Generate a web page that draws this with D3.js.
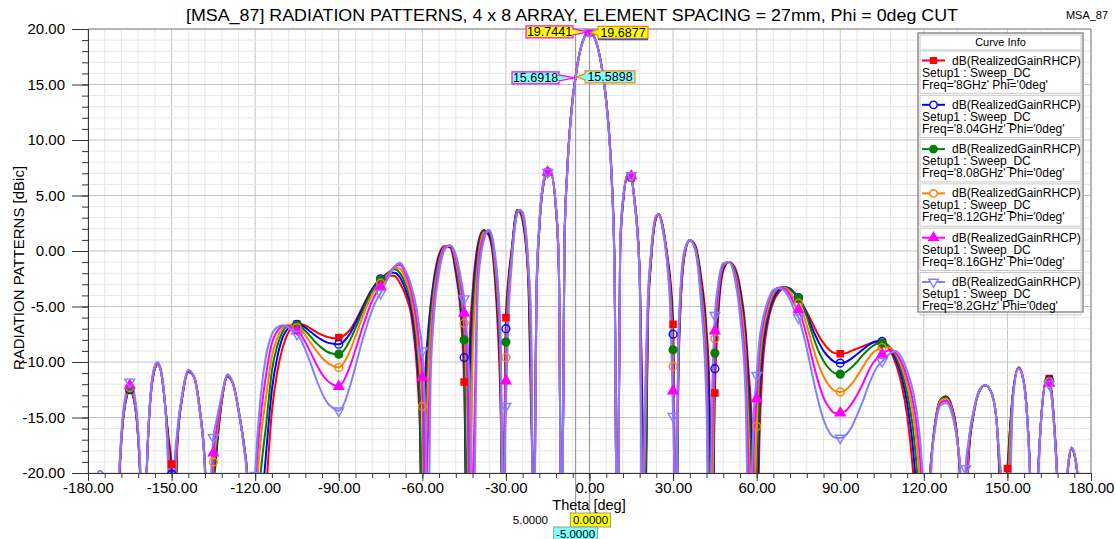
<!DOCTYPE html>
<html>
<head>
<meta charset="utf-8">
<script src="https://cdn.jsdelivr.net/npm/d3@7"></script>
<style>
  body { margin: 0; background: #fff; }
  text { font-family: "Liberation Sans", Arial, sans-serif; fill: #000; }
</style>
</head>
<body>
<div id="chart"></div>
<script>
// SVG area
var svgWidth = 1115;
var svgHeight = 539;

// plot area edges (px)
var plot = { left: 88, right: 1091, top: 29, bottom: 473 };

// theta grid [deg], read along the x axis
var theta = [
  -180, -178, -176, -174, -172, -170, -169, -168, -166, -165, -164, -162, -161, -160,
  -159, -158, -156, -155, -154, -152, -151, -150, -149, -148,
  -146, -144, -142, -140, -138, -137, -136, -135, -134, -132, -130,
  -128, -126, -124, -123, -122, -121, -120, -118, -116,
  -114, -112, -110, -108, -106, -105, -104, -102, -100, -98, -96, -94, -92,
  -90, -88, -86, -84, -82, -80, -78, -76, -75, -74, -72, -70,
  -68, -66, -64, -62, -61, -60, -59, -58, -57, -56,
  -54, -52, -50, -48, -46, -45, -44, -43, -42, -40,
  -38, -36, -34, -32, -31, -30, -29, -28,
  -26, -25, -24, -22, -21, -20,
  -19, -18, -16, -15, -14, -12, -11,
  -10, -9, -8, -7, -6, -5, -4, -3, -2, -1, 0,
  1, 2, 3, 4, 5, 6, 7, 8, 9, 10,
  11, 12, 14, 15, 16, 18,
  19, 20, 21, 22, 24, 25, 26, 28, 29, 30, 31,
  32, 34, 36, 38, 40, 42, 43, 44, 45, 46,
  48, 50, 52, 54, 56, 57, 58, 59, 60, 61, 62,
  64, 66, 68, 70, 72, 74, 75, 76, 78, 80,
  82, 84, 86, 88, 90, 92, 94, 96, 98, 100,
  102, 104, 105, 106, 108, 110, 112, 114, 116,
  117, 118, 119, 120, 121, 122, 123, 124, 126, 128, 130, 132, 133,
  134, 135, 136, 138, 140, 142, 144, 146, 147, 148, 149, 150,
  152, 154, 156, 157, 158, 159, 160, 161, 162, 164, 165, 166, 167,
  168, 169, 170, 171, 172, 173, 174, 175, 176, 178, 180
];

// dB(RealizedGainRHCP) per frequency
var gain8GHz = [
  -24, -22.5, -20.8, -21.4, -25, -33, -22, -17, -13, -12.5, -12.9, -16.8, -22, -33,
  -20.5, -14.8, -10.6, -10.2, -10.6, -14.6, -17, -19.2, -30, -17.8,
  -12.9, -10.9, -11.3, -14, -19.5, -25, -32, -22, -18.6, -13.6, -11.3,
  -11.9, -14.3, -17.5, -19.6, -23, -25, -27, -31, -21.5,
  -14.5, -10.8, -8.6, -7.3, -6.75, -6.6, -6.55, -6.7, -7, -7.3, -7.55, -7.75, -7.85,
  -7.8, -7.6, -7.1, -6.3, -5.3, -4.3, -3.4, -2.8, -2.55, -2.4, -2.2, -2.25,
  -2.9, -4, -5.8, -10.5, -15, -24, -11.5, -7.5, -4.8, -2.8,
  -0.3, 0.45, 0.3, -2, -6.5, -11.8, -24, -8, -3.8, 0.7,
  1.9, 1.3, -2.4, -13, -24, -6, -2.2, 0,
  3.7, 3.5, 2.7, -2.5, -14, -22,
  -4, 2, 6.6, 7.1, 7.1, 3.6, -1.8,
  -30, 0.8, 7.3, 11.2, 13.9, 15.69, 17.3, 18.4, 19.15, 19.55, 19.69,
  19.55, 19.1, 18.3, 17.15, 15.6, 13.6, 10.8, 6.6, -1.5, -30,
  0, 4.2, 7, 6.6, 5, -1.8,
  -14, -25, -6, -1.3, 3, 3.3, 2.6, -0.5, -2.5, -6.6, -28,
  -10, -0.6, 1, 0.5, -2.2, -7, -12, -28, -12.8, -6.8,
  -1.8, -1, -1.4, -3.2, -7, -10.5, -14, -20, -30, -17, -11,
  -6.5, -4.6, -3.7, -3.3, -3.4, -3.95, -4.3, -4.65, -5.5, -6.5,
  -7.5, -8.3, -8.9, -9.2, -9.25, -9.2, -9, -8.8, -8.6, -8.4,
  -8.25, -8.2, -8.25, -8.35, -9, -10.2, -12, -14.8, -19.5,
  -23, -30, -26, -23, -22, -21, -17.8, -15.6, -13.4, -13.1, -14, -16.8, -20.5,
  -26, -30, -19, -14.5, -12.6, -12.1, -12.6, -15, -19.5, -30, -24, -19.6,
  -12.8, -10.5, -12, -14.5, -19, -27, -26, -20, -15.5, -11.6, -11.5, -13, -16.3,
  -21, -28, -27, -22, -19, -17.8, -18.3, -19.8, -23, -26, -24
];

var gain804GHz = [
  -24, -22.5, -20.7, -21.3, -25, -33, -22, -17, -13, -12.5, -12.9, -16.8, -22, -33,
  -20.5, -14.8, -10.6, -10.2, -10.6, -14.7, -17.5, -20.1, -27, -17.5,
  -12.9, -10.9, -11.3, -14, -19.5, -26, -29, -21, -18.2, -13.5, -11.3,
  -11.9, -14.3, -17.5, -19.6, -24, -27, -30, -24, -18,
  -12.5, -9.5, -7.7, -6.9, -6.6, -6.6, -6.65, -6.9, -7.3, -7.7, -8, -8.25, -8.35,
  -8.4, -8.1, -7.45, -6.5, -5.45, -4.4, -3.45, -2.75, -2.5, -2.3, -1.95, -1.95,
  -2.4, -3.5, -5.2, -9.3, -13.5, -30, -13.5, -8, -5.1, -3,
  -0.5, 0.4, 0.4, -1.6, -5.6, -9.6, -30, -11, -5, 0.3,
  1.85, 1.5, -1.9, -11.5, -28, -7, -2.6, -0.2,
  3.65, 3.6, 2.9, -2.2, -12, -24,
  -3.8, 2.1, 6.65, 7.1, 7.1, 3.7, -1.6,
  -30, 0.7, 7.25, 11.15, 13.85, 15.67, 17.28, 18.4, 19.15, 19.56, 19.7,
  19.56, 19.1, 18.3, 17.15, 15.58, 13.55, 10.75, 6.5, -1.7, -30,
  0.1, 4.3, 7, 6.65, 4.95, -1.9,
  -16, -22, -5.6, -1.1, 3.05, 3.3, 2.55, -0.7, -2.9, -7.5, -30,
  -9.3, -0.5, 1, 0.4, -2.6, -8, -14, -30, -10.6, -5.8,
  -1.6, -1, -1.5, -3.5, -7.6, -11.5, -16, -24, -24, -14, -9.5,
  -6, -4.3, -3.5, -3.25, -3.4, -3.9, -4.2, -4.55, -5.7, -7,
  -8.1, -9, -9.6, -10, -10.1, -10, -9.7, -9.3, -8.9, -8.5,
  -8.2, -8.1, -8.15, -8.25, -8.8, -9.8, -11.3, -13.7, -17.5,
  -20.5, -25, -30, -24, -22, -20.5, -17.8, -15.6, -13.4, -13.1, -14, -16.8, -20.3,
  -27, -28, -18.6, -14.5, -12.6, -12.1, -12.6, -15, -19.2, -26, -27, -20.5,
  -12.8, -10.5, -12, -14.5, -19, -27, -26, -20, -15.5, -11.6, -11.6, -13.1, -16.4,
  -21, -28, -27, -22, -19, -17.8, -18.3, -19.8, -23, -26, -24
];

var gain808GHz = [
  -24, -22.3, -20.6, -21.2, -25, -33, -21.8, -16.9, -12.9, -12.4, -12.8, -16.7, -22, -33,
  -20.4, -14.7, -10.5, -10.2, -10.6, -14.8, -18, -22, -24, -17.2,
  -12.8, -10.85, -11.3, -14.1, -19.6, -27, -26, -20.5, -17.8, -13.4, -11.3,
  -11.9, -14.3, -17.5, -19.7, -25, -29, -27, -20, -15.5,
  -10.8, -8.5, -7.2, -6.7, -6.65, -6.7, -6.8, -7.2, -7.75, -8.3, -8.75, -9.1, -9.25,
  -9.3, -8.9, -8.05, -6.95, -5.75, -4.6, -3.6, -2.9, -2.6, -2.35, -1.9, -1.65,
  -2, -3, -4.7, -8.3, -12, -24, -17, -9.5, -6, -3.6,
  -0.8, 0.4, 0.45, -1.2, -4.9, -8, -22, -22, -7, -0.3,
  1.8, 1.65, -1.4, -10, -30, -8.2, -3.1, -0.4,
  3.6, 3.65, 3.1, -1.9, -10, -26,
  -3.6, 2.2, 6.7, 7.1, 7.1, 3.8, -1.5,
  -30, 0.6, 7.2, 11.1, 13.8, 15.65, 17.26, 18.4, 19.16, 19.57, 19.71,
  19.57, 19.1, 18.3, 17.13, 15.56, 13.5, 10.7, 6.4, -1.9, -30,
  0.2, 4.4, 7, 6.7, 4.9, -2,
  -21, -21, -5.2, -0.9, 3.1, 3.3, 2.5, -0.9, -3.4, -8.9, -28,
  -8.7, -0.4, 1, 0.3, -3, -9, -20.5, -24, -9.2, -5,
  -1.4, -1, -1.6, -3.9, -8.4, -13, -19, -30, -21, -12, -8.5,
  -5.6, -4, -3.35, -3.25, -3.5, -3.95, -4.25, -4.6, -5.9, -7.5,
  -8.9, -9.9, -10.6, -11, -11.1, -10.9, -10.5, -10, -9.4, -8.9,
  -8.5, -8.3, -8.3, -8.35, -8.7, -9.5, -10.8, -12.8, -15.8,
  -18.2, -21.5, -27, -28, -23, -20.5, -17.8, -15.6, -13.4, -13.15, -14.1, -16.9, -20,
  -28, -26, -18.3, -14.5, -12.6, -12.1, -12.6, -15, -18.9, -24, -30, -21.5,
  -12.9, -10.5, -12, -14.5, -19.2, -27, -26, -20, -15.5, -11.65, -11.7, -13.2, -16.5,
  -21, -28, -27, -22, -19, -17.8, -18.3, -19.8, -23, -26, -24
];

var gain812GHz = [
  -24, -22.2, -20.5, -21, -25, -32, -21.6, -16.8, -12.8, -12.3, -12.7, -16.6, -21.8, -33,
  -20.4, -14.7, -10.5, -10.2, -10.6, -14.9, -18.8, -24, -22, -17,
  -12.8, -10.8, -11.3, -14.1, -19.7, -29, -24, -19, -17, -13.3, -11.2,
  -11.9, -14.3, -17.6, -19.8, -26, -31, -24, -17, -13,
  -9.5, -7.8, -6.9, -6.65, -6.8, -6.9, -7, -7.6, -8.3, -9, -9.6, -10.1, -10.35,
  -10.5, -10, -9, -7.7, -6.3, -5, -3.95, -3.15, -2.9, -2.6, -2, -1.5,
  -1.6, -2.6, -4.2, -7.4, -10.3, -14, -26, -12, -7.5, -4.3,
  -1.1, 0.4, 0.5, -0.9, -4, -6.5, -13, -26, -10, -1,
  1.6, 1.8, -0.9, -9, -26, -9.6, -3.7, -0.7,
  3.5, 3.7, 3.25, -1.6, -8.5, -28,
  -3.4, 2.3, 6.7, 7.1, 7.1, 3.8, -1.4,
  -30, 0.5, 7.15, 11.05, 13.75, 15.63, 17.25, 18.4, 19.17, 19.58, 19.72,
  19.58, 19.12, 18.3, 17.12, 15.54, 13.45, 10.65, 6.3, -2.1, -30,
  0.3, 4.5, 7, 6.7, 4.85, -2.1,
  -22, -16, -4.8, -0.7, 3.15, 3.3, 2.45, -1.1, -3.9, -10.4, -25,
  -8.2, -0.3, 1, 0.2, -3.5, -10.5, -23, -22, -7.9, -4.5,
  -1.3, -1, -1.8, -4.4, -9.5, -15.5, -24, -23, -15.8, -10.2, -7.7,
  -5.2, -3.8, -3.3, -3.3, -3.7, -4.5, -4.7, -5.2, -6.7, -8.5,
  -10.1, -11.3, -12.1, -12.6, -12.7, -12.5, -12, -11.3, -10.5, -9.7,
  -9.1, -8.8, -8.7, -8.65, -8.75, -9.3, -10.4, -12, -14.5,
  -16.3, -19, -23, -30, -25, -21, -17.9, -15.7, -13.5, -13.3, -14.2, -17, -19.8,
  -30, -24, -18, -14.4, -12.6, -12.1, -12.6, -15, -18.6, -22.5, -30, -23,
  -13, -10.5, -12, -14.6, -19.4, -28, -25, -20.1, -15.6, -11.7, -11.8, -13.3, -16.6,
  -21.2, -28.5, -26.5, -21.8, -18.9, -17.75, -18.25, -19.75, -23, -26, -24
];

var gain816GHz = [
  -24, -22, -20.3, -20.8, -24.6, -31, -21.3, -16.6, -12.6, -12.1, -12.5, -16.4, -21.5, -33,
  -20.3, -14.6, -10.4, -10.1, -10.6, -15, -19.8, -27, -20.5, -16.7,
  -12.7, -10.8, -11.3, -14.2, -19.8, -31, -23, -18.2, -16.3, -13.2, -11.2,
  -11.9, -14.3, -17.7, -20, -28, -30, -22, -15, -11,
  -8.3, -7.2, -6.75, -6.75, -7.05, -7.2, -7.4, -8.2, -9.2, -10.2, -11.1, -11.7, -12.05,
  -12.2, -11.6, -10.4, -8.9, -7.3, -5.8, -4.5, -3.55, -3.2, -2.85, -2.1, -1.4,
  -1.25, -2.1, -3.6, -6.4, -8.7, -11.4, -24, -17, -9.5, -5.3,
  -1.5, 0.3, 0.5, -0.6, -3.4, -5.6, -10, -22, -21, -1.8,
  1.3, 1.9, -0.5, -8, -23, -11.7, -4.5, -1,
  3.4, 3.7, 3.4, -1.3, -7, -30,
  -3.2, 2.4, 6.8, 7.1, 7.05, 3.9, -1.3,
  -30, 0.4, 7.1, 11, 13.7, 15.61, 17.23, 18.4, 19.17, 19.59, 19.73,
  19.59, 19.12, 18.3, 17.1, 15.52, 13.4, 10.6, 6.2, -2.3, -30,
  0.4, 4.6, 7, 6.75, 4.8, -2.2,
  -26, -14, -4.4, -0.5, 3.2, 3.3, 2.4, -1.3, -4.6, -12.6, -22,
  -7.6, -0.2, 1, 0.1, -4, -12, -26, -17, -7.2, -4,
  -1.2, -1, -2, -5, -11, -19, -30, -17.5, -13.3, -9, -7,
  -4.8, -3.6, -3.3, -3.4, -4, -5, -5.3, -5.9, -7.7, -9.8,
  -11.7, -13.2, -14.1, -14.6, -14.6, -14.4, -13.8, -13, -12, -10.9,
  -10, -9.5, -9.3, -9.1, -8.95, -9.2, -10, -11.4, -13.4,
  -14.9, -17, -20, -26, -30, -22, -18, -15.8, -13.7, -13.5, -14.4, -17.1, -19.5,
  -30, -22, -17.6, -14.3, -12.5, -12.1, -12.6, -15, -18.3, -21.5, -27, -26,
  -13.1, -10.55, -12, -14.7, -19.6, -29, -24, -20.2, -15.6, -11.75, -11.9, -13.4, -16.7,
  -21.3, -28.8, -26.3, -21.6, -18.85, -17.7, -18.2, -19.7, -23, -26, -24
];

var gain82GHz = [
  -23.5, -21.5, -19.8, -20.2, -24, -30, -21, -16.4, -12.3, -11.8, -12.2, -16.1, -21, -33,
  -20.2, -14.5, -10.3, -10, -10.6, -15.2, -21.5, -32, -19.5, -16.3,
  -12.6, -10.7, -11.3, -14.3, -20, -33, -21.5, -16.8, -15.4, -13, -11.1,
  -11.9, -14.3, -17.8, -20.3, -30, -27, -20.2, -13, -9.3,
  -7.5, -6.85, -6.7, -6.9, -7.3, -7.5, -7.8, -8.9, -10.2, -11.6, -12.8, -13.7, -14.15,
  -14.4, -13.7, -12.2, -10.4, -8.5, -6.8, -5.3, -4.2, -3.8, -3.3, -2.3, -1.4,
  -1.05, -1.8, -3.1, -5.3, -7, -9, -14.5, -28, -11.5, -6.5,
  -2, 0.1, 0.5, -0.3, -2.7, -4.3, -7.5, -13, -30, -3,
  0.9, 1.9, -0.1, -7, -24, -14, -5.5, -1.4,
  3.3, 3.7, 3.5, -1, -6, -32,
  -3, 2.5, 6.8, 7.1, 7, 4, -1.2,
  -30, 0.3, 7, 10.9, 13.65, 15.59, 17.22, 18.4, 19.18, 19.6, 19.74,
  19.6, 19.13, 18.3, 17.1, 15.5, 13.35, 10.5, 6.1, -2.5, -30,
  0.5, 4.7, 7, 6.8, 4.7, -2.4,
  -30, -12.5, -4, -0.3, 3.25, 3.3, 2.3, -1.5, -5.4, -14.9, -23,
  -7, 0, 1, 0, -4.6, -14, -30, -13, -5.8, -3.3,
  -1.1, -1, -2.3, -5.8, -13, -24, -22, -14.5, -11.2, -8, -6.4,
  -4.5, -3.5, -3.35, -3.6, -4.4, -5.6, -6, -6.8, -8.8, -11.2,
  -13.4, -15.2, -16.3, -16.8, -16.85, -16.6, -15.9, -14.8, -13.6, -12.2,
  -11, -10.2, -9.95, -9.7, -9.2, -9, -9.6, -10.8, -12.5,
  -13.8, -15.5, -18, -22.5, -30, -24, -18.3, -16.1, -13.9, -13.7, -14.6, -17.2, -19.5,
  -30, -19.6, -17.2, -14.2, -12.5, -12.1, -12.6, -15, -18, -21, -25, -30,
  -13.3, -10.6, -12.1, -14.8, -19.8, -30, -23, -20.3, -15.7, -11.8, -12, -13.5, -16.8,
  -21.5, -29, -26, -21.5, -18.8, -17.7, -18.2, -19.7, -23, -26, -24
];

var seriesFreqs = ["8GHz", "8.04GHz", "8.08GHz", "8.12GHz", "8.16GHz", "8.2GHz"];
var seriesValues = [gain8GHz, gain804GHz, gain808GHz, gain812GHz, gain816GHz, gain82GHz];

// axis ticks
var xTickValues = d3.range(-180, 181, 30);
var xMinorValues = d3.range(-180, 181, 6);
var yTickValues = d3.range(-20, 21, 5);
var yMinorValues = d3.range(-20, 21, 1);

// marker readouts (m1 at 0 deg, m2 at -5 deg)
var markerThetas = [0, -5];
var markerLeftValues = ["19.7441", "15.6918"];
var markerRightValues = ["19.6877", "15.5898"];

// styles
var seriesColors = ["#ff0000", "#0000ff", "#008000", "#ff8000", "#ff00ff", "#8080ff"];
var seriesSymbols = [d3.symbolSquare, d3.symbolCircle, d3.symbolCircle, d3.symbolCircle, d3.symbolTriangle, d3.symbolTriangle];
var seriesFilled = [true, false, true, false, true, false];
var seriesRotate = [0, 0, 0, 0, 0, 180];
var seriesSymbolSize = [38, 48, 48, 48, 42, 42];

var svg = d3.select("#chart")
  .append("svg")
  .attr("width", svgWidth)
  .attr("height", svgHeight);

var xScale = d3.scaleLinear().domain([-180, 180]).range([plot.left, plot.right]);
var yScale = d3.scaleLinear().domain([-20, 20]).range([plot.bottom, plot.top]);

// grid lines
var gridGroup = svg.append("g");
gridGroup.selectAll(".vgrid")
  .data(xMinorValues)
  .enter()
  .append("line")
  .attr("x1", d => xScale(d)).attr("x2", d => xScale(d))
  .attr("y1", plot.top).attr("y2", plot.bottom)
  .attr("stroke", d => d % 30 === 0 ? "#c4c4c4" : "#e6e6e6")
  .attr("stroke-width", 1);
gridGroup.selectAll(".hgrid")
  .data(yMinorValues)
  .enter()
  .append("line")
  .attr("x1", plot.left).attr("x2", plot.right)
  .attr("y1", d => yScale(d)).attr("y2", d => yScale(d))
  .attr("stroke", d => d % 5 === 0 ? "#c4c4c4" : "#e6e6e6")
  .attr("stroke-width", 1);

// plot frame (top, right)
svg.append("line")
  .attr("x1", plot.left).attr("x2", plot.right)
  .attr("y1", plot.top).attr("y2", plot.top)
  .attr("stroke", "#8a8a8a");
svg.append("line")
  .attr("x1", plot.right).attr("x2", plot.right)
  .attr("y1", plot.top).attr("y2", plot.bottom)
  .attr("stroke", "#8a8a8a");

// marker lines
svg.selectAll(".mline")
  .data(markerThetas)
  .enter()
  .append("line")
  .attr("x1", d => xScale(d)).attr("x2", d => xScale(d))
  .attr("y1", plot.top)
  .attr("y2", (d, i) => i === 0 ? 528 : 539)
  .attr("stroke", "#9a9a9a")
  .attr("stroke-width", 1.2);

// axes
function styleAxis(g) {
  g.select(".domain").attr("stroke", "#333");
  g.selectAll(".tick line").attr("stroke", "#333");
  g.selectAll(".tick text").style("font-size", "15px").attr("fill", "#111");
}

var bottomMinor = d3.axisBottom(xScale).tickValues(xMinorValues).tickSize(5).tickSizeOuter(0).tickFormat("");
var bottomAxis = d3.axisBottom(xScale).tickValues(xTickValues).tickSize(8).tickSizeOuter(0).tickPadding(1)
  .tickFormat(d => d.toFixed(2));
svg.append("g").attr("transform", `translate(0, ${plot.bottom})`).call(bottomMinor).call(styleAxis);
svg.append("g").attr("transform", `translate(0, ${plot.bottom})`).call(bottomAxis).call(styleAxis);

var leftMinor = d3.axisLeft(yScale).tickValues(yMinorValues).tickSize(6).tickSizeOuter(0).tickFormat("");
var leftAxis = d3.axisLeft(yScale).tickValues(yTickValues).tickSize(16).tickSizeOuter(0).tickPadding(7)
  .tickFormat(d => d.toFixed(2));
svg.append("g").attr("transform", `translate(${plot.left}, 0)`).call(leftMinor).call(styleAxis);
svg.append("g").attr("transform", `translate(${plot.left}, 0)`).call(leftAxis).call(styleAxis);

// axis titles
svg.append("text")
  .attr("x", 589).attr("y", 510)
  .attr("text-anchor", "middle")
  .style("font-size", "14.5px")
  .text("Theta [deg]");
svg.append("text")
  .attr("transform", "translate(24, 268) rotate(-90)")
  .attr("text-anchor", "middle")
  .style("font-size", "15px")
  .text("RADIATION PATTERNS [dBic]");

// title
svg.append("text")
  .attr("x", 572).attr("y", 21)
  .attr("text-anchor", "middle")
  .attr("textLength", 772)
  .attr("lengthAdjust", "spacingAndGlyphs")
  .style("font-size", "17px")
  .text("[MSA_87] RADIATION PATTERNS, 4 x 8 ARRAY, ELEMENT SPACING = 27mm, Phi = 0deg CUT");
svg.append("text")
  .attr("x", 1087).attr("y", 19)
  .attr("text-anchor", "middle")
  .style("font-size", "11px")
  .text("MSA_87");

// curves
svg.append("clipPath").attr("id", "plotClip")
  .append("rect")
  .attr("x", plot.left).attr("y", plot.top)
  .attr("width", plot.right - plot.left).attr("height", plot.bottom - plot.top);

var curveGroup = svg.append("g").attr("clip-path", "url(#plotClip)");
var n = theta.length;

var lineGen = d3.line()
  .x((d, i) => xScale(theta[i]))
  .y(d => yScale(d))
  .curve(d3.curveMonotoneX);

function symbolPath(k, scale) {
  return d3.symbol().type(seriesSymbols[k]).size(seriesSymbolSize[k] * scale)();
}

seriesValues.forEach(function (vals, k) {
  curveGroup.append("path")
    .datum(vals.slice(0, n))
    .attr("d", lineGen)
    .attr("fill", "none")
    .attr("stroke", seriesColors[k])
    .attr("stroke-width", 2);
});

seriesValues.forEach(function (vals, k) {
  var pts = theta.map((t, i) => ({ t: t, v: vals[i] }))
    .filter(p => p.t % 15 === 0 && p.v !== undefined && p.v > -21);
  curveGroup.selectAll(".sym" + k)
    .data(pts)
    .enter()
    .append("path")
    .attr("d", symbolPath(k, 1))
    .attr("transform", p => `translate(${xScale(p.t)}, ${yScale(p.v)}) rotate(${seriesRotate[k]})`)
    .attr("fill", seriesFilled[k] ? seriesColors[k] : "none")
    .attr("stroke", seriesColors[k])
    .attr("stroke-width", 1.4);
});

// marker callouts
function callout(x0, x1, yc, tipX, tipY, fill, stroke, label) {
  var h = 12;
  var y0 = yc - h / 2, y1 = yc + h / 2;
  var pts;
  if (tipX > x1) {
    pts = [[x0, y0], [x1, y0], [x1, yc - 3], [tipX, tipY], [x1, yc + 3], [x1, y1], [x0, y1]];
  } else {
    pts = [[x0, y0], [x1, y0], [x1, y1], [x0, y1], [x0, yc + 3], [tipX, tipY], [x0, yc - 3]];
  }
  svg.append("polygon")
    .attr("points", pts.map(p => p.join(",")).join(" "))
    .attr("fill", fill)
    .attr("stroke", stroke)
    .attr("stroke-width", 1.2);
  svg.append("text")
    .attr("x", (x0 + x1) / 2).attr("y", yc + 4.5)
    .attr("text-anchor", "middle")
    .style("font-size", "12.5px")
    .text(label);
}

markerThetas.forEach(function (t, i) {
  var idx = theta.indexOf(t);
  var px = xScale(t);
  var pyL = yScale(gain82GHz[idx]);
  var pyR = yScale(gain8GHz[idx]);
  var fill = i === 0 ? "#ffff00" : "#80ffff";
  var leftX0 = i === 0 ? 526 : 512;
  callout(leftX0, leftX0 + 47, pyL, px - 1, pyL, fill, "#ff00ff", markerLeftValues[i]);
  var rightX0 = i === 0 ? 598 : 585;
  callout(rightX0, rightX0 + 50, pyR, px + 1, pyR, fill, "#ff8000", markerRightValues[i]);
});
// blue underline of the right m1 readout
svg.append("line")
  .attr("x1", 598).attr("x2", 648)
  .attr("y1", yScale(gain8GHz[theta.indexOf(0)]) + 7)
  .attr("y2", yScale(gain8GHz[theta.indexOf(0)]) + 7)
  .attr("stroke", "#3050ff").attr("stroke-width", 1.5);

// marker theta readouts under the x axis
svg.append("text")
  .attr("x", 548).attr("y", 524)
  .attr("text-anchor", "end")
  .style("font-size", "11.5px")
  .text((markerThetas[0] - markerThetas[1]).toFixed(4));
svg.append("rect")
  .attr("x", xScale(markerThetas[0]) - 19).attr("y", 513)
  .attr("width", 40).attr("height", 14)
  .attr("fill", "#ffff00").attr("stroke", "#999");
svg.append("text")
  .attr("x", xScale(markerThetas[0]) + 1).attr("y", 524)
  .attr("text-anchor", "middle")
  .style("font-size", "11.5px")
  .text(markerThetas[0].toFixed(4));
svg.append("rect")
  .attr("x", xScale(markerThetas[1]) - 22).attr("y", 527)
  .attr("width", 44).attr("height", 14)
  .attr("fill", "#80ffff").attr("stroke", "#999");
svg.append("text")
  .attr("x", xScale(markerThetas[1])).attr("y", 538)
  .attr("text-anchor", "middle")
  .style("font-size", "11.5px")
  .text(markerThetas[1].toFixed(4));

// legend
var legend = svg.append("g");
var legX = 918, legY = 33, legW = 165, entryH = 44.3;
legend.append("rect")
  .attr("x", legX).attr("y", legY)
  .attr("width", legW).attr("height", 279)
  .attr("fill", "#fff").attr("stroke", "#707070").attr("stroke-width", 1.2);
legend.append("rect")
  .attr("x", legX + 2).attr("y", legY + 2)
  .attr("width", legW - 4).attr("height", 15)
  .attr("fill", "none").attr("stroke", "#c8c8c8");
legend.append("text")
  .attr("x", legX + legW / 2).attr("y", legY + 13)
  .attr("text-anchor", "middle")
  .style("font-size", "11px")
  .text("Curve Info");

seriesFreqs.forEach(function (f, k) {
  var top = 51 + k * entryH;
  legend.append("rect")
    .attr("x", legX + 2).attr("y", top)
    .attr("width", legW - 4).attr("height", entryH - 2)
    .attr("fill", "none").attr("stroke", "#c8c8c8");
  var ly = top + 9.5;
  legend.append("line")
    .attr("x1", 922).attr("x2", 945)
    .attr("y1", ly).attr("y2", ly)
    .attr("stroke", seriesColors[k]).attr("stroke-width", 2);
  legend.append("path")
    .attr("d", symbolPath(k, 0.9))
    .attr("transform", `translate(933.5, ${ly}) rotate(${seriesRotate[k]})`)
    .attr("fill", seriesFilled[k] ? seriesColors[k] : "#fff")
    .attr("stroke", seriesColors[k])
    .attr("stroke-width", 1.4);
  legend.append("text")
    .attr("x", 952).attr("y", top + 13.5)
    .style("font-size", "12px")
    .text("dB(RealizedGainRHCP)");
  legend.append("text")
    .attr("x", 922).attr("y", top + 25.5)
    .style("font-size", "12px")
    .text("Setup1 : Sweep_DC");
  legend.append("text")
    .attr("x", 922).attr("y", top + 37.5)
    .style("font-size", "12px")
    .text("Freq='" + f + "' Phi='0deg'");
});
</script>
</body>
</html>
